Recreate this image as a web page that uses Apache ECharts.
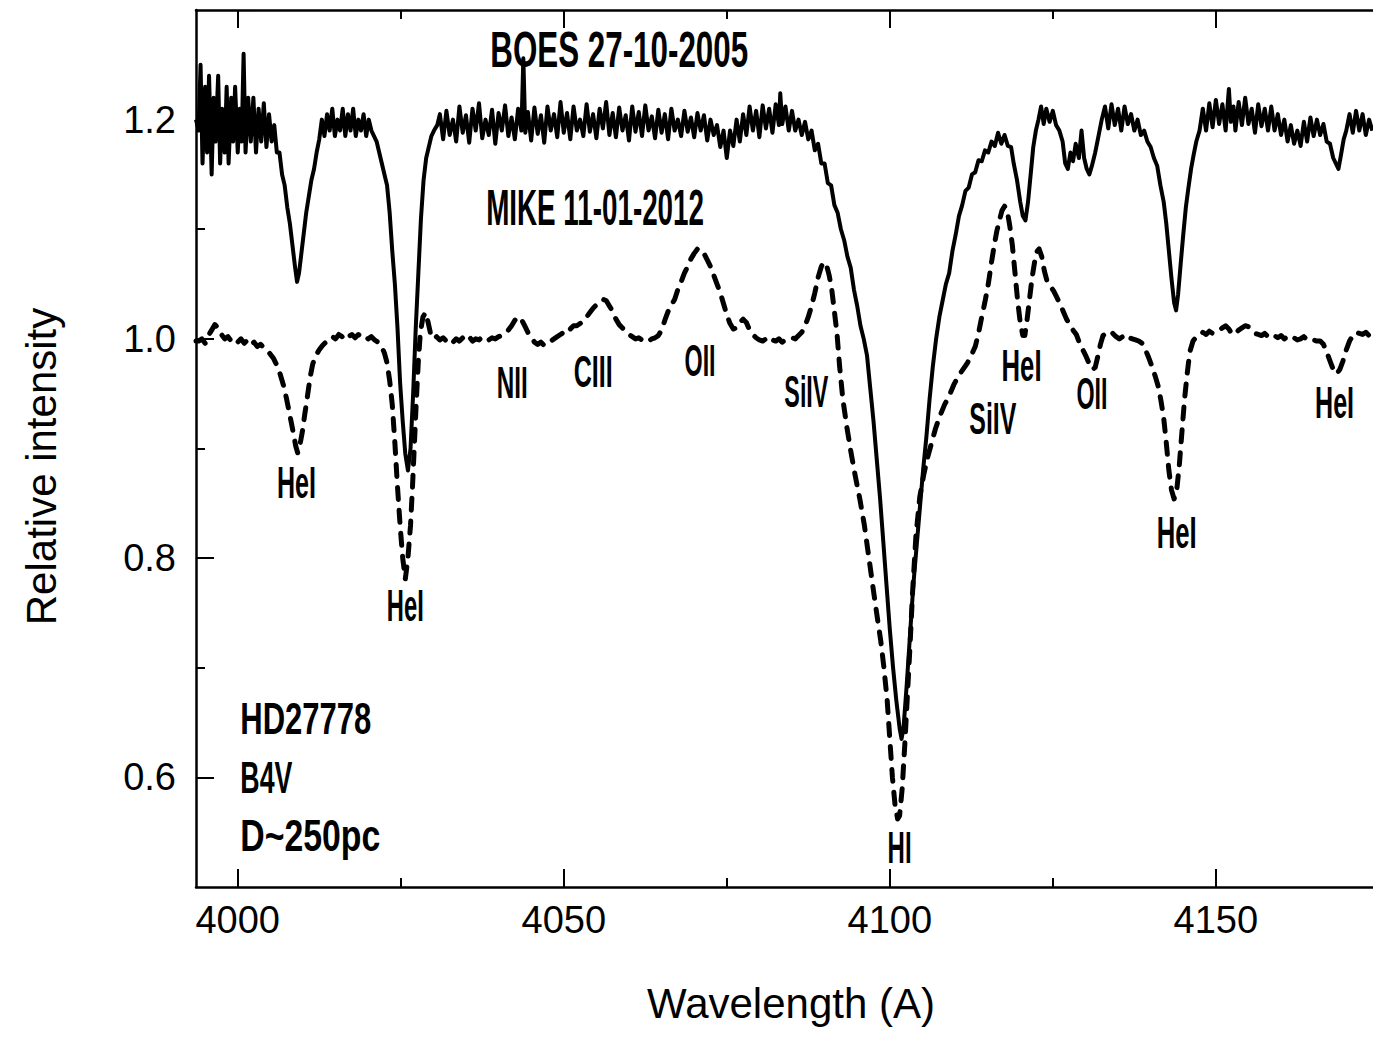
<!DOCTYPE html>
<html>
<head>
<meta charset="utf-8">
<title>HD27778 BOES / MIKE</title>
<script src="https://cdn.jsdelivr.net/npm/echarts@6/dist/echarts.min.js"></script>
<style>
  html, body { margin: 0; padding: 0; background: #fff; }
  #chart { width: 1373px; height: 1037px; }
</style>
</head>
<body>
<div id="chart"></div>
<script>
// BOES 27-10-2005, [wavelength A, relative intensity] (offset +0.2 as plotted)
const boes = [
  [3993.6,1.20],[3994.0,1.19],[3994.3,1.25],[3994.6,1.16],[3995.0,1.23],[3995.3,1.17],[3995.6,1.24],[3996.0,1.15],
  [3996.3,1.22],[3996.6,1.18],[3997.0,1.24],[3997.3,1.16],[3997.6,1.21],[3998.0,1.17],[3998.3,1.23],[3998.6,1.16],
  [3999.0,1.22],[3999.3,1.18],[3999.6,1.23],[4000.0,1.17],[4000.3,1.21],[4000.6,1.18],[4000.9,1.26],[4001.2,1.17],
  [4001.6,1.22],[4002.0,1.18],[4002.4,1.22],[4002.8,1.17],[4003.2,1.21],[4003.6,1.18],[4004.0,1.215],[4004.4,1.175],
  [4004.8,1.205],[4005.2,1.18],[4005.6,1.195],[4006.0,1.17],[4006.4,1.17],[4006.8,1.15],[4007.2,1.14],[4007.6,1.12],
  [4008.0,1.105],[4008.4,1.085],[4008.8,1.065],[4009.1,1.052],[4009.4,1.06],[4009.7,1.075],[4010.1,1.095],[4010.5,1.115],
  [4010.9,1.13],[4011.3,1.145],[4011.7,1.155],[4012.1,1.17],[4012.5,1.182],[4012.9,1.2],[4013.3,1.185],[4013.7,1.205],
  [4014.1,1.19],[4014.5,1.21],[4014.9,1.185],[4015.3,1.2],[4015.7,1.19],[4016.1,1.21],[4016.5,1.185],[4016.9,1.205],
  [4017.3,1.19],[4017.7,1.21],[4018.1,1.185],[4018.5,1.2],[4018.9,1.19],[4019.3,1.205],[4019.7,1.185],[4020.1,1.2],
  [4020.5,1.19],[4020.9,1.185],[4021.3,1.18],[4021.7,1.17],[4022.1,1.16],[4022.5,1.15],[4022.9,1.14],[4023.3,1.115],
  [4023.7,1.08],[4024.1,1.05],[4024.5,1.01],[4024.9,0.96],[4025.3,0.925],[4025.7,0.895],[4026.1,0.88],[4026.5,0.90],
  [4026.9,0.95],[4027.3,1.01],[4027.7,1.06],[4028.1,1.11],[4028.5,1.145],[4028.9,1.165],[4029.3,1.175],[4029.7,1.185],
  [4030.1,1.19],[4030.6,1.195],[4031.0,1.205],[4031.5,1.182],[4032.0,1.208],[4032.5,1.186],[4033.0,1.2],[4033.5,1.18],
  [4034.0,1.212],[4034.5,1.188],[4035.0,1.204],[4035.5,1.179],[4036.0,1.21],[4036.5,1.19],[4037.0,1.215],[4037.5,1.183],
  [4038.0,1.2],[4038.5,1.186],[4039.0,1.209],[4039.5,1.178],[4040.0,1.206],[4040.5,1.19],[4041.0,1.213],[4041.5,1.185],
  [4042.0,1.202],[4042.5,1.182],[4043.0,1.21],[4043.5,1.19],[4043.8,1.256],[4044.1,1.188],[4044.5,1.207],[4045.0,1.181],
  [4045.5,1.211],[4046.0,1.187],[4046.5,1.204],[4047.0,1.179],[4047.5,1.212],[4048.0,1.19],[4048.5,1.205],[4049.0,1.184],
  [4049.5,1.216],[4050.0,1.188],[4050.5,1.206],[4051.0,1.182],[4051.5,1.212],[4052.0,1.19],[4052.5,1.2],[4053.0,1.185],
  [4053.5,1.214],[4054.0,1.189],[4054.5,1.205],[4055.0,1.183],[4055.5,1.21],[4056.0,1.192],[4056.5,1.216],[4057.0,1.186],
  [4057.5,1.206],[4058.0,1.184],[4058.5,1.211],[4059.0,1.19],[4059.5,1.204],[4060.0,1.181],[4060.5,1.212],[4061.0,1.189],
  [4061.5,1.207],[4062.0,1.185],[4062.5,1.213],[4063.0,1.19],[4063.5,1.203],[4064.0,1.183],[4064.5,1.209],[4065.0,1.188],
  [4065.5,1.205],[4066.0,1.182],[4066.5,1.21],[4067.0,1.19],[4067.5,1.2],[4068.0,1.185],[4068.5,1.208],[4069.0,1.189],
  [4069.5,1.202],[4070.0,1.184],[4070.5,1.206],[4071.0,1.19],[4071.5,1.204],[4072.0,1.181],[4072.5,1.2],[4073.0,1.186],
  [4073.5,1.195],[4074.0,1.175],[4074.5,1.19],[4075.0,1.165],[4075.5,1.19],[4076.0,1.176],[4076.5,1.2],[4077.0,1.18],
  [4077.5,1.205],[4078.0,1.186],[4078.5,1.212],[4079.0,1.19],[4079.5,1.208],[4080.0,1.184],[4080.5,1.213],[4081.0,1.192],
  [4081.5,1.21],[4082.0,1.188],[4082.5,1.214],[4083.0,1.195],[4083.2,1.224],[4083.5,1.196],[4084.0,1.212],[4084.5,1.19],
  [4085.0,1.208],[4085.5,1.19],[4086.0,1.2],[4086.5,1.186],[4087.0,1.198],[4087.5,1.182],[4088.0,1.19],[4088.5,1.172],
  [4089.0,1.178],[4089.5,1.16],[4090.0,1.16],[4090.5,1.142],[4091.0,1.14],[4091.5,1.122],[4092.0,1.115],[4092.5,1.1],
  [4093.0,1.09],[4093.5,1.075],[4094.0,1.065],[4094.5,1.045],[4095.0,1.03],[4095.5,1.012],[4096.0,1.0],[4096.5,0.985],
  [4097.0,0.955],[4097.5,0.925],[4098.0,0.89],[4098.5,0.855],[4099.0,0.815],[4099.5,0.775],[4100.0,0.735],[4100.5,0.70],
  [4101.0,0.67],[4101.5,0.645],[4101.8,0.635],[4102.1,0.645],[4102.6,0.685],[4103.1,0.73],[4103.6,0.775],[4104.1,0.81],
  [4104.6,0.845],[4105.1,0.88],[4105.6,0.91],[4106.1,0.945],[4106.6,0.975],[4107.1,1.0],[4107.6,1.02],[4108.1,1.035],
  [4108.6,1.05],[4109.1,1.06],[4109.6,1.08],[4110.1,1.095],[4110.6,1.112],[4111.1,1.122],[4111.6,1.135],[4112.1,1.138],
  [4112.6,1.15],[4113.1,1.152],[4113.6,1.163],[4114.1,1.162],[4114.6,1.172],[4115.1,1.17],[4115.6,1.18],[4116.1,1.176],
  [4116.6,1.188],[4117.1,1.178],[4117.6,1.186],[4118.1,1.176],[4118.6,1.175],[4119.0,1.16],[4119.5,1.145],[4120.0,1.125],
  [4120.4,1.112],[4120.8,1.108],[4121.2,1.125],[4121.6,1.15],[4122.0,1.175],[4122.4,1.19],[4122.8,1.2],[4123.2,1.212],
  [4123.6,1.196],[4124.0,1.21],[4124.5,1.198],[4125.0,1.208],[4125.5,1.195],[4126.0,1.19],[4126.5,1.18],[4126.9,1.16],
  [4127.3,1.155],[4127.7,1.17],[4128.1,1.162],[4128.5,1.178],[4129.0,1.165],[4129.4,1.19],[4129.8,1.165],[4130.2,1.155],
  [4130.6,1.15],[4131.0,1.158],[4131.5,1.17],[4132.0,1.185],[4132.5,1.2],[4133.0,1.212],[4133.5,1.192],[4134.0,1.214],
  [4134.5,1.195],[4135.0,1.21],[4135.5,1.19],[4136.0,1.212],[4136.5,1.196],[4137.0,1.205],[4137.5,1.19],[4138.0,1.2],
  [4138.5,1.186],[4139.0,1.19],[4139.5,1.18],[4140.0,1.175],[4140.5,1.165],[4141.0,1.158],[4141.5,1.14],[4142.0,1.125],
  [4142.4,1.105],[4142.8,1.08],[4143.2,1.055],[4143.6,1.033],[4143.9,1.026],[4144.2,1.04],[4144.6,1.068],[4145.0,1.095],
  [4145.4,1.12],[4145.8,1.138],[4146.2,1.155],[4146.6,1.168],[4147.0,1.18],[4147.5,1.19],[4148.0,1.21],[4148.5,1.19],
  [4149.0,1.215],[4149.5,1.193],[4150.0,1.218],[4150.5,1.196],[4151.0,1.214],[4151.5,1.19],[4152.0,1.228],[4152.3,1.198],
  [4152.7,1.212],[4153.0,1.19],[4153.5,1.216],[4154.0,1.195],[4154.5,1.22],[4155.0,1.196],[4155.5,1.21],[4156.0,1.188],
  [4156.5,1.214],[4157.0,1.194],[4157.5,1.21],[4158.0,1.19],[4158.5,1.212],[4159.0,1.19],[4159.5,1.205],[4160.0,1.186],
  [4160.5,1.2],[4161.0,1.18],[4161.5,1.195],[4162.0,1.178],[4162.5,1.19],[4163.0,1.176],[4163.5,1.198],[4164.0,1.18],
  [4164.5,1.202],[4165.0,1.185],[4165.5,1.2],[4166.0,1.186],[4166.5,1.196],[4167.0,1.18],[4167.5,1.178],[4168.0,1.165],
  [4168.4,1.16],[4168.8,1.155],[4169.2,1.168],[4169.6,1.182],[4170.0,1.19],[4170.5,1.205],[4171.0,1.188],[4171.5,1.208],
  [4172.0,1.19],[4172.5,1.205],[4173.0,1.186],[4173.5,1.2],[4174.0,1.19]
];

// MIKE 11-01-2012, [wavelength A, relative intensity]
const mike = [
  [3993.6,0.998],[3994.0,0.998],[3994.5,1.0],[3995.0,0.996],[3995.5,1.003],[3996.0,1.008],[3996.5,1.013],[3997.0,1.01],
  [3997.5,1.004],[3998.0,1.0],[3998.5,1.002],[3999.0,0.998],[3999.5,1.0],[4000.0,0.997],[4000.5,1.0],[4001.0,0.996],
  [4001.5,0.999],[4002.0,0.995],[4002.5,0.997],[4003.0,0.993],[4003.5,0.995],[4004.0,0.992],[4004.5,0.99],[4005.0,0.986],
  [4005.5,0.982],[4006.0,0.976],[4006.5,0.968],[4007.0,0.958],[4007.5,0.945],[4008.0,0.93],[4008.5,0.915],[4008.9,0.902],
  [4009.2,0.896],[4009.5,0.902],[4009.9,0.915],[4010.3,0.932],[4010.7,0.948],[4011.1,0.965],[4011.5,0.977],[4012.0,0.985],
  [4012.5,0.99],[4013.0,0.994],[4013.5,0.997],[4014.0,0.999],[4014.5,1.002],[4015.0,1.0],[4015.5,1.004],[4016.0,1.002],
  [4016.5,1.005],[4017.0,1.002],[4017.5,1.004],[4018.0,1.001],[4018.5,1.004],[4019.0,1.002],[4019.5,1.003],[4020.0,1.0],
  [4020.5,1.002],[4021.0,0.999],[4021.5,0.997],[4022.0,0.994],[4022.5,0.987],[4022.9,0.978],[4023.3,0.962],[4023.7,0.94],
  [4024.1,0.905],[4024.5,0.865],[4024.9,0.83],[4025.3,0.80],[4025.7,0.781],[4026.1,0.80],[4026.5,0.83],[4026.8,0.865],
  [4027.1,0.905],[4027.4,0.945],[4027.7,0.98],[4028.0,1.005],[4028.4,1.02],[4028.8,1.024],[4029.2,1.015],[4029.6,1.004],
  [4030.0,1.0],[4030.5,1.002],[4031.0,0.999],[4031.5,1.001],[4032.0,0.998],[4032.5,1.0],[4033.0,0.997],[4033.5,1.0],
  [4034.0,0.998],[4034.5,1.001],[4035.0,0.999],[4035.5,1.002],[4036.0,0.998],[4036.5,1.0],[4037.0,0.999],[4037.5,1.002],
  [4038.0,1.0],[4038.5,0.999],[4039.0,1.001],[4039.5,1.0],[4040.0,1.002],[4040.5,1.003],[4041.0,1.006],[4041.5,1.008],
  [4042.0,1.012],[4042.5,1.017],[4043.0,1.02],[4043.5,1.018],[4044.0,1.012],[4044.5,1.006],[4045.0,1.002],[4045.5,0.997],
  [4046.0,0.995],[4046.5,0.997],[4047.0,0.994],[4047.5,0.996],[4048.0,0.998],[4048.5,1.0],[4049.0,1.002],[4049.5,1.004],
  [4050.0,1.006],[4050.5,1.01],[4051.0,1.009],[4051.5,1.012],[4052.0,1.012],[4052.5,1.014],[4053.0,1.016],[4053.5,1.02],
  [4054.0,1.024],[4054.5,1.028],[4055.0,1.031],[4055.5,1.034],[4056.0,1.036],[4056.5,1.035],[4057.0,1.03],[4057.5,1.025],
  [4058.0,1.018],[4058.5,1.013],[4059.0,1.01],[4059.5,1.007],[4060.0,1.004],[4060.5,1.002],[4061.0,1.0],[4061.5,1.001],
  [4062.0,0.999],[4062.5,1.0],[4063.0,0.998],[4063.5,1.0],[4064.0,1.001],[4064.5,1.003],[4065.0,1.008],[4065.5,1.017],
  [4066.0,1.025],[4066.5,1.031],[4067.0,1.036],[4067.5,1.045],[4068.0,1.052],[4068.5,1.06],[4069.0,1.066],[4069.5,1.073],
  [4070.0,1.078],[4070.5,1.082],[4071.0,1.082],[4071.5,1.078],[4072.0,1.072],[4072.5,1.066],[4073.0,1.058],[4073.5,1.05],
  [4074.0,1.042],[4074.5,1.032],[4075.0,1.022],[4075.5,1.014],[4076.0,1.009],[4076.5,1.01],[4077.0,1.015],[4077.5,1.018],
  [4078.0,1.015],[4078.5,1.008],[4079.0,1.004],[4079.5,1.001],[4080.0,0.999],[4080.5,0.998],[4081.0,1.0],[4081.5,0.997],
  [4082.0,0.999],[4082.5,0.998],[4083.0,1.0],[4083.5,0.997],[4084.0,0.999],[4084.5,1.0],[4085.0,1.001],[4085.5,1.0],
  [4086.0,1.003],[4086.5,1.006],[4087.0,1.012],[4087.5,1.02],[4088.0,1.03],[4088.5,1.042],[4089.0,1.056],[4089.5,1.066],
  [4089.9,1.07],[4090.3,1.067],[4090.7,1.058],[4091.1,1.045],[4091.5,1.025],[4091.9,1.005],[4092.3,0.975],[4092.8,0.945],
  [4093.4,0.92],[4094.0,0.898],[4094.7,0.875],[4095.4,0.854],[4096.1,0.83],[4096.8,0.80],[4097.5,0.77],[4098.1,0.745],
  [4098.6,0.725],[4099.1,0.70],[4099.6,0.67],[4100.0,0.635],[4100.4,0.60],[4100.8,0.575],[4101.2,0.562],[4101.5,0.565],
  [4101.9,0.59],[4102.3,0.63],[4102.7,0.675],[4103.1,0.72],[4103.5,0.77],[4104.0,0.82],[4104.6,0.856],[4105.2,0.876],
  [4105.8,0.892],[4106.4,0.905],[4107.0,0.918],[4107.7,0.93],[4108.4,0.94],[4109.1,0.948],[4109.8,0.958],[4110.5,0.966],
  [4111.2,0.972],[4111.9,0.978],[4112.5,0.985],[4113.1,0.993],[4113.6,1.005],[4114.1,1.02],[4114.6,1.034],[4115.1,1.05],
  [4115.6,1.07],[4116.0,1.085],[4116.4,1.098],[4116.8,1.108],[4117.2,1.117],[4117.6,1.121],[4118.0,1.117],[4118.4,1.103],
  [4118.8,1.085],[4119.2,1.06],[4119.6,1.035],[4120.0,1.015],[4120.4,1.003],[4120.7,1.003],[4121.0,1.015],[4121.4,1.035],
  [4121.8,1.055],[4122.2,1.07],[4122.6,1.08],[4122.9,1.082],[4123.3,1.075],[4123.7,1.062],[4124.1,1.053],[4124.6,1.048],
  [4125.1,1.044],[4125.6,1.038],[4126.1,1.032],[4126.6,1.025],[4127.1,1.018],[4127.6,1.013],[4128.1,1.008],[4128.6,1.004],
  [4129.1,0.996],[4129.6,0.99],[4130.1,0.984],[4130.6,0.977],[4131.1,0.972],[4131.5,0.974],[4131.9,0.984],[4132.3,0.995],
  [4132.7,1.003],[4133.2,1.005],[4133.7,1.003],[4134.2,1.005],[4134.7,1.002],[4135.2,1.0],[4135.7,1.002],[4136.2,0.999],
  [4136.7,1.001],[4137.2,1.0],[4137.7,0.999],[4138.2,0.998],[4138.7,0.996],[4139.2,0.99],[4139.7,0.983],[4140.2,0.975],
  [4140.7,0.966],[4141.2,0.956],[4141.6,0.943],[4142.0,0.928],[4142.4,0.905],[4142.8,0.88],[4143.2,0.862],[4143.6,0.854],
  [4144.0,0.862],[4144.4,0.885],[4144.8,0.915],[4145.2,0.945],[4145.6,0.968],[4146.0,0.988],[4146.5,0.998],[4147.0,1.002],
  [4147.5,1.003],[4148.0,1.006],[4148.5,1.004],[4149.0,1.007],[4149.5,1.005],[4150.0,1.006],[4150.5,1.008],[4151.0,1.01],
  [4151.5,1.012],[4152.0,1.009],[4152.5,1.004],[4153.0,1.005],[4153.5,1.008],[4154.0,1.01],[4154.5,1.012],[4155.0,1.011],
  [4155.5,1.008],[4156.0,1.005],[4156.5,1.004],[4157.0,1.003],[4157.5,1.005],[4158.0,1.002],[4158.5,1.004],[4159.0,1.003],
  [4159.5,1.001],[4160.0,1.003],[4160.5,1.0],[4161.0,1.002],[4161.5,1.0],[4162.0,1.001],[4162.5,0.999],[4163.0,1.0],
  [4163.5,1.002],[4164.0,0.999],[4164.5,1.0],[4165.0,0.999],[4165.5,0.998],[4166.0,0.998],[4166.5,0.995],[4167.0,0.988],
  [4167.5,0.98],[4168.0,0.972],[4168.5,0.968],[4169.0,0.972],[4169.5,0.98],[4170.0,0.99],[4170.5,0.998],[4171.0,1.003],
  [4171.5,1.006],[4172.0,1.005],[4172.5,1.004],[4173.0,1.006],[4173.5,1.003],[4174.0,1.004]
];

const xMajorTicks = [4000, 4050, 4100, 4150];
const xMinorTicks = [4025, 4075, 4125];
const yMajorTicks = [0.6, 0.8, 1.0, 1.2];
const yMinorTicks = [0.7, 0.9, 1.1];

// annotation texts: spectrum names, line identifications, star info
const spectrumNames = ['BOES 27-10-2005', 'MIKE 11-01-2012'];
const lineIds = ['HeI', 'HeI', 'NII', 'CIII', 'OII', 'SiIV', 'SiIV', 'HeI', 'OII', 'HeI', 'HeI', 'HI'];
const starInfo = ['HD27778', 'B4V', 'D~250pc'];

const X_MIN = 3993.6, X_MAX = 4174.1, Y_MIN = 0.5, Y_MAX = 1.3;

// where each text sits (data coords of text centre / left edge), and how wide it is drawn
const namePlace = [
  { at: [4058.5, 1.264], w: 258, size: 50 },
  { at: [4054.8, 1.120], w: 218, size: 50 }
];
const idPlace = [
  { at: [4009.0, 0.869], w: 39 },
  { at: [4025.7, 0.757], w: 37 },
  { at: [4042.1, 0.960], w: 31 },
  { at: [4054.5, 0.970], w: 39 },
  { at: [4070.9, 0.980], w: 31 },
  { at: [4087.2, 0.952], w: 44 },
  { at: [4115.8, 0.927], w: 47 },
  { at: [4120.2, 0.976], w: 40 },
  { at: [4131.0, 0.950], w: 31 },
  { at: [4144.0, 0.823], w: 40 },
  { at: [4168.2, 0.942], w: 39 },
  { at: [4101.5, 0.536], w: 24 }
];
const infoPlace = [
  { at: [4000.4, 0.654], w: 131 },
  { at: [4000.4, 0.600], w: 52 },
  { at: [4000.4, 0.547], w: 140 }
];

const tickFont = "'Liberation Sans', Arial, sans-serif";
const titleFont = "'Liberation Sans', Arial, sans-serif";
const noteFont = "'Liberation Sans', Arial, sans-serif";

function xAxisOf(position, ticks, len, withLine, withLabels) {
  return {
    type: 'value',
    position: position,
    min: X_MIN,
    max: X_MAX,
    axisLine: { show: withLine, lineStyle: { color: '#000', width: 2.5 } },
    axisTick: { show: true, inside: true, length: len, customValues: ticks, lineStyle: { color: '#000', width: 2 } },
    axisLabel: withLabels ? {
      show: true, customValues: ticks, margin: 14, color: '#000',
      fontFamily: tickFont, fontSize: 38,
      formatter: v => String(Math.round(v))
    } : { show: false },
    splitLine: { show: false }
  };
}

function yAxisOf(ticks, len, withLine, withLabels) {
  return {
    type: 'value',
    position: 'left',
    min: Y_MIN,
    max: Y_MAX,
    axisLine: { show: withLine, lineStyle: { color: '#000', width: 2.5 } },
    axisTick: { show: true, inside: true, length: len, customValues: ticks, lineStyle: { color: '#000', width: 2 } },
    axisLabel: withLabels ? {
      show: true, customValues: ticks, margin: 20, color: '#000',
      fontFamily: tickFont, fontSize: 38,
      formatter: v => Number(v).toFixed(1)
    } : { show: false },
    splitLine: { show: false }
  };
}

const chart = echarts.init(document.getElementById('chart'), null, { renderer: 'svg' });

const xMain = xAxisOf('bottom', xMajorTicks, 18, true, true);
xMain.name = 'Wavelength (A)';
xMain.nameLocation = 'middle';
xMain.nameGap = 95;
xMain.nameTextStyle = { fontFamily: titleFont, fontSize: 42, color: '#000', padding: [0, 0, 0, 13] };

const yMain = yAxisOf(yMajorTicks, 18, true, true);
yMain.name = 'Relative intensity';
yMain.nameLocation = 'middle';
yMain.nameGap = 134;
yMain.nameTextStyle = { fontFamily: titleFont, fontSize: 42, color: '#000', padding: [0, 36, 0, 0] };

const option = {
  animation: false,
  backgroundColor: '#fff',
  grid: { left: 196, right: 0, top: 10, bottom: 150, containLabel: false, outerBoundsMode: 'none' },
  xAxis: [
    xMain,
    xAxisOf('bottom', xMinorTicks, 9, false, false),
    xAxisOf('top', xMajorTicks, 18, true, false),
    xAxisOf('top', xMinorTicks, 9, false, false)
  ],
  yAxis: [
    yMain,
    yAxisOf(yMinorTicks, 9, false, false)
  ],
  series: [
    {
      name: spectrumNames[0],
      type: 'line',
      data: boes,
      showSymbol: false,
      symbol: 'none',
      clip: true,
      lineStyle: { color: '#000', width: 4, join: 'round' },
      z: 3
    },
    {
      name: spectrumNames[1],
      type: 'line',
      data: mike,
      showSymbol: false,
      symbol: 'none',
      clip: true,
      lineStyle: { color: '#000', width: 5, type: [12, 11], cap: 'round', join: 'round' },
      z: 2
    }
  ]
};
chart.setOption(option);

// condensed annotation lettering: squeeze bold text horizontally to the measured width
const measureCtx = document.createElement('canvas').getContext('2d');
function squeeze(text, size, width) {
  measureCtx.font = 'bold ' + size + 'px ' + noteFont;
  return width / measureCtx.measureText(text).width;
}

function note(text, place, size, align) {
  const p = chart.convertToPixel({ xAxisIndex: 0, yAxisIndex: 0 }, place.at);
  return {
    type: 'text',
    silent: true,
    x: p[0],
    y: p[1],
    scaleX: squeeze(text, size, place.w),
    z: 10,
    style: {
      text: text,
      fill: '#000',
      fontFamily: noteFont,
      fontWeight: 'bold',
      fontSize: size,
      align: align,
      verticalAlign: 'middle'
    }
  };
}

const graphics = [];
spectrumNames.forEach((t, i) => graphics.push(note(t, namePlace[i], namePlace[i].size, 'center')));
lineIds.forEach((t, i) => graphics.push(note(t, idPlace[i], 45, 'center')));
starInfo.forEach((t, i) => graphics.push(note(t, infoPlace[i], 45, 'left')));

chart.setOption({ graphic: graphics });

window.addEventListener('resize', () => {
  chart.resize();
});
</script>
</body>
</html>
